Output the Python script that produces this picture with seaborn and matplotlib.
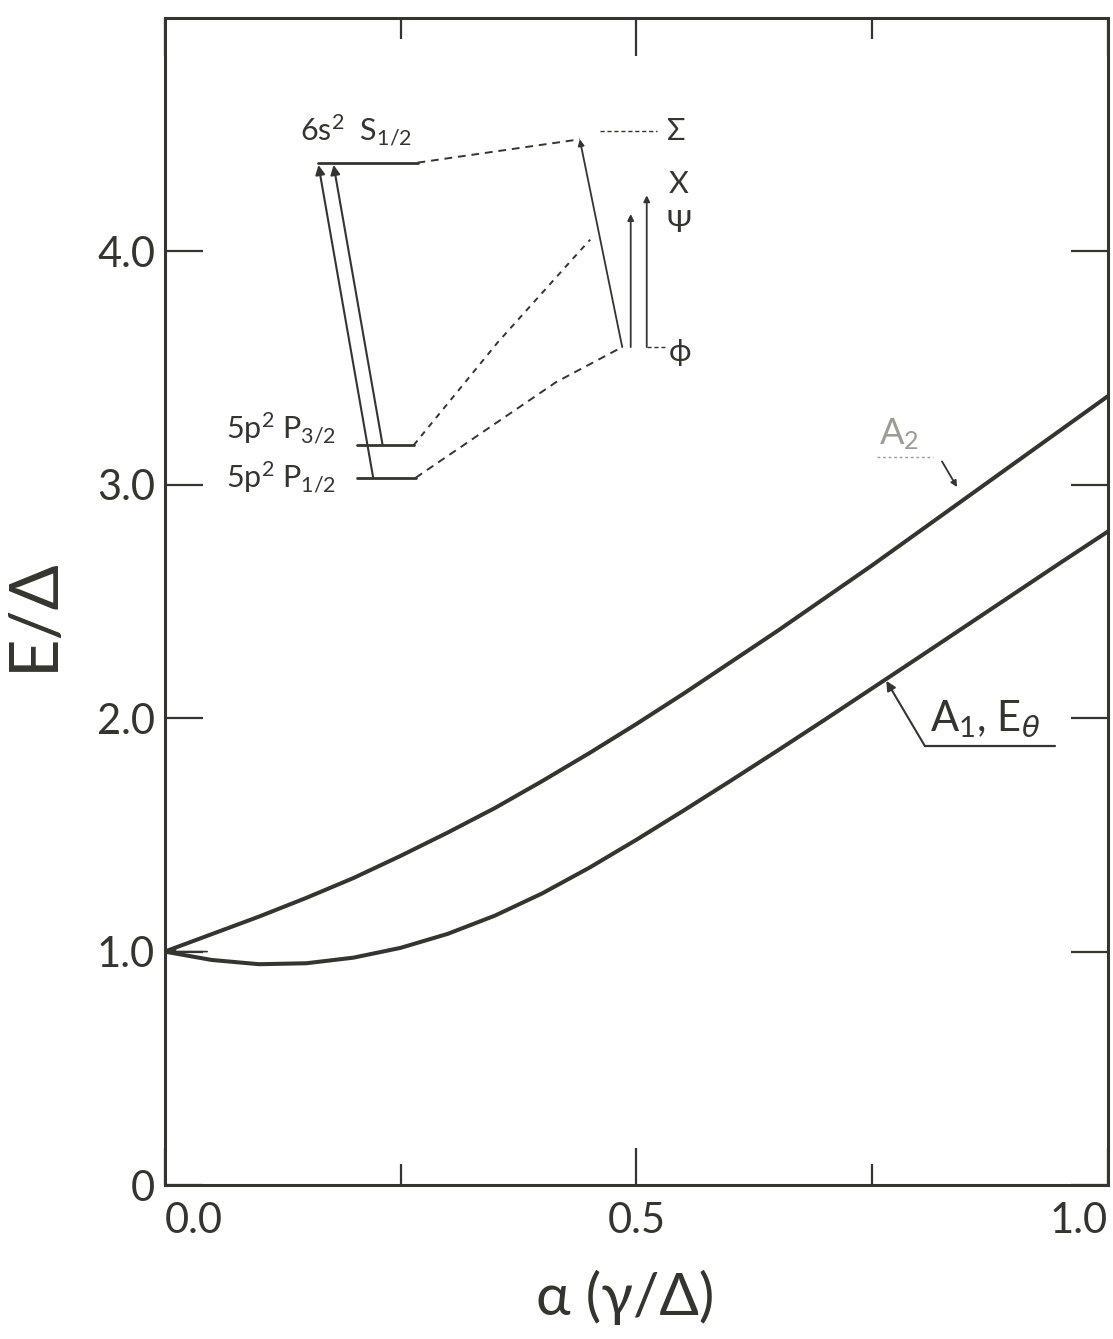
import pandas as pd
import seaborn as sns
import matplotlib.pyplot as plt

sns.set_theme(style="white")
plt.rcParams['font.family'] = ['Lato', 'DejaVu Sans']
plt.rcParams['mathtext.fontset'] = 'dejavusans'

ink = "#34352e"
faded = "#9c9d94"

# the two branches
alpha = [0.0, 0.05, 0.10, 0.15, 0.20, 0.25, 0.30, 0.35, 0.40, 0.45, 0.50,
         0.55, 0.60, 0.65, 0.70, 0.75, 0.80, 0.85, 0.90, 0.95, 1.00]
upper_E = [1.00, 1.075, 1.15, 1.23, 1.315, 1.41, 1.51, 1.615, 1.73, 1.85, 1.975,
           2.105, 2.24, 2.375, 2.515, 2.655, 2.80, 2.945, 3.09, 3.235, 3.38]
lower_E = [1.00, 0.964, 0.946, 0.950, 0.974, 1.016, 1.076, 1.154, 1.249, 1.359, 1.479,
           1.604, 1.732, 1.862, 1.994, 2.128, 2.262, 2.397, 2.532, 2.667, 2.80]
branch_names = ["A2", "A1, Etheta"]

# inset level scheme (same units as the axes)
level_S = 4.38
level_P32 = 3.17
level_P12 = 3.03
level_phi = 3.59
level_sigma = 4.515
top_psi = 4.16
top_chi = 4.24
S_span = [0.162, 0.268]
P32_span = [0.204, 0.264]
P12_span = [0.204, 0.266]
P32_link_x = [0.264, 0.353, 0.433, 0.451]
P32_link_y = [3.17, 3.61, 3.97, 4.05]
P12_link_x = [0.266, 0.415, 0.485]
P12_link_y = [3.03, 3.44, 3.59]

df = pd.DataFrame({
    "alpha": alpha + alpha,
    "E": upper_E + lower_E,
    "branch": [branch_names[0]] * len(alpha) + [branch_names[1]] * len(alpha),
})

fig = plt.figure(figsize=(11.13, 13.39), dpi=100)
ax = fig.add_axes([0.148, 0.115, 0.8475, 0.8716])

sns.lineplot(data=df, x="alpha", y="E", hue="branch", palette=[ink, ink],
             linewidth=2.9, legend=False, ax=ax)

ax.set_xlim(0, 1.0)
ax.set_ylim(0, 5.0)
ax.set_xticks([0.0, 0.5, 1.0])
ax.set_xticklabels(["0.0", "0.5", "1.0"])
ax.set_xticks([0.25, 0.75], minor=True)
ax.set_yticks([0, 1, 2, 3, 4])
ax.set_yticklabels(["0", "1.0", "2.0", "3.0", "4.0"])
ax.tick_params(which='major', direction='in', length=27, width=1.6, color=ink,
               left=True, bottom=True, top=True, right=True,
               labelsize=30, labelcolor=ink)
ax.tick_params(axis='x', which='minor', direction='in', length=15, width=1.6,
               color=ink, top=True, bottom=True)
ax.tick_params(axis='x', pad=12)
ax.tick_params(axis='y', pad=7)
xl = ax.get_xticklabels()
xl[0].set_ha('left')
xl[-1].set_ha('right')

for s in ax.spines.values():
    s.set_color(ink)
    s.set_linewidth(2.2)

ax.set_xlabel("α (γ/Δ)", fontsize=42, color=ink)
ax.set_ylabel("E/Δ", fontsize=48, color=ink)
ax.xaxis.set_label_coords(0.488, -0.073)
ax.yaxis.set_label_coords(-0.106, 0.489)

# level scheme
ax.plot(S_span, [level_S, level_S], color=ink, lw=2.0)
ax.plot(P32_span, [level_P32, level_P32], color=ink, lw=2.0)
ax.plot(P12_span, [level_P12, level_P12], color=ink, lw=2.0)

arr = dict(arrowstyle='-|>', lw=1.5, color=ink, mutation_scale=14,
           shrinkA=0, shrinkB=0)
ax.annotate("", xy=(0.163, level_S - 0.01), xytext=(0.221, level_P12), arrowprops=arr)
ax.annotate("", xy=(0.179, level_S - 0.01), xytext=(0.231, level_P32), arrowprops=arr)

ax.plot([S_span[1], 0.440], [level_S, 4.48], color=ink, lw=1.4, ls=(0, (4, 3)))
ax.plot(P32_link_x, P32_link_y, color=ink, lw=1.4, ls=(0, (3, 3)))
ax.plot(P12_link_x, P12_link_y, color=ink, lw=1.4, ls=(0, (4, 3)))
ax.plot([0.461, 0.522], [level_sigma, level_sigma], color=ink, lw=1.0, ls=(0, (3, 2)))
ax.plot([0.511, 0.530], [level_phi, level_phi], color=ink, lw=1.0, ls=(0, (3, 2)))

arr_thin = dict(arrowstyle='-|>', lw=1.3, color=ink, mutation_scale=9,
                shrinkA=0, shrinkB=0)
ax.annotate("", xy=(0.440, 4.48), xytext=(0.485, level_phi), arrowprops=arr_thin)
ax.annotate("", xy=(0.494, top_psi), xytext=(0.494, level_phi), arrowprops=arr_thin)
ax.annotate("", xy=(0.511, top_chi), xytext=(0.511, level_phi), arrowprops=arr_thin)

ax.text(0.143, 4.48, r"6s$\mathregular{^2}$  S$\mathregular{_{1/2}}$", fontsize=22,
        color=ink, va='baseline', ha='left')
ax.text(0.182, 3.20, r"5p$\mathregular{^2}$ P$\mathregular{_{3/2}}$", fontsize=22,
        color=ink, va='baseline', ha='right')
ax.text(0.182, 2.99, r"5p$\mathregular{^2}$ P$\mathregular{_{1/2}}$", fontsize=22,
        color=ink, va='baseline', ha='right')
ax.text(0.532, level_sigma, "Σ", fontsize=22, color=ink, va='center', ha='left')
ax.text(0.534, 4.29, "X", fontsize=22, color=ink, va='center', ha='left')
ax.text(0.532, 4.12, "Ψ", fontsize=22, color=ink, va='center', ha='left')
ax.text(0.534, 3.57, "ϕ", fontsize=22, color=ink, va='center', ha='left')

# branch labels
ax.text(0.757, 3.14, r"A$\mathregular{_2}$", fontsize=26, color=faded,
        va='bottom', ha='left')
ax.plot([0.755, 0.815], [3.12, 3.12], color=faded, lw=1.0, ls=(0, (2, 2)))
ax.annotate("", xy=(0.840, 2.99), xytext=(0.824, 3.10), arrowprops=arr_thin)

ax.text(0.811, 1.905, r"A$\mathregular{_1}$, E$_\theta$", fontsize=30, color=ink,
        va='bottom', ha='left')
ax.plot([0.806, 0.944], [1.88, 1.88], color=ink, lw=1.6)
ax.annotate("", xy=(0.765, 2.16), xytext=(0.806, 1.88),
            arrowprops=dict(arrowstyle='-|>', lw=1.5, color=ink, mutation_scale=14,
                            shrinkA=0, shrinkB=0))

# small arrow at the common origin
ax.annotate("", xy=(0.004, 1.0), xytext=(0.045, 1.0),
            arrowprops=dict(arrowstyle='-|>', lw=1.2, color=ink, mutation_scale=9,
                            shrinkA=0, shrinkB=0))

fig.savefig("out.png", dpi=100, facecolor="white")
